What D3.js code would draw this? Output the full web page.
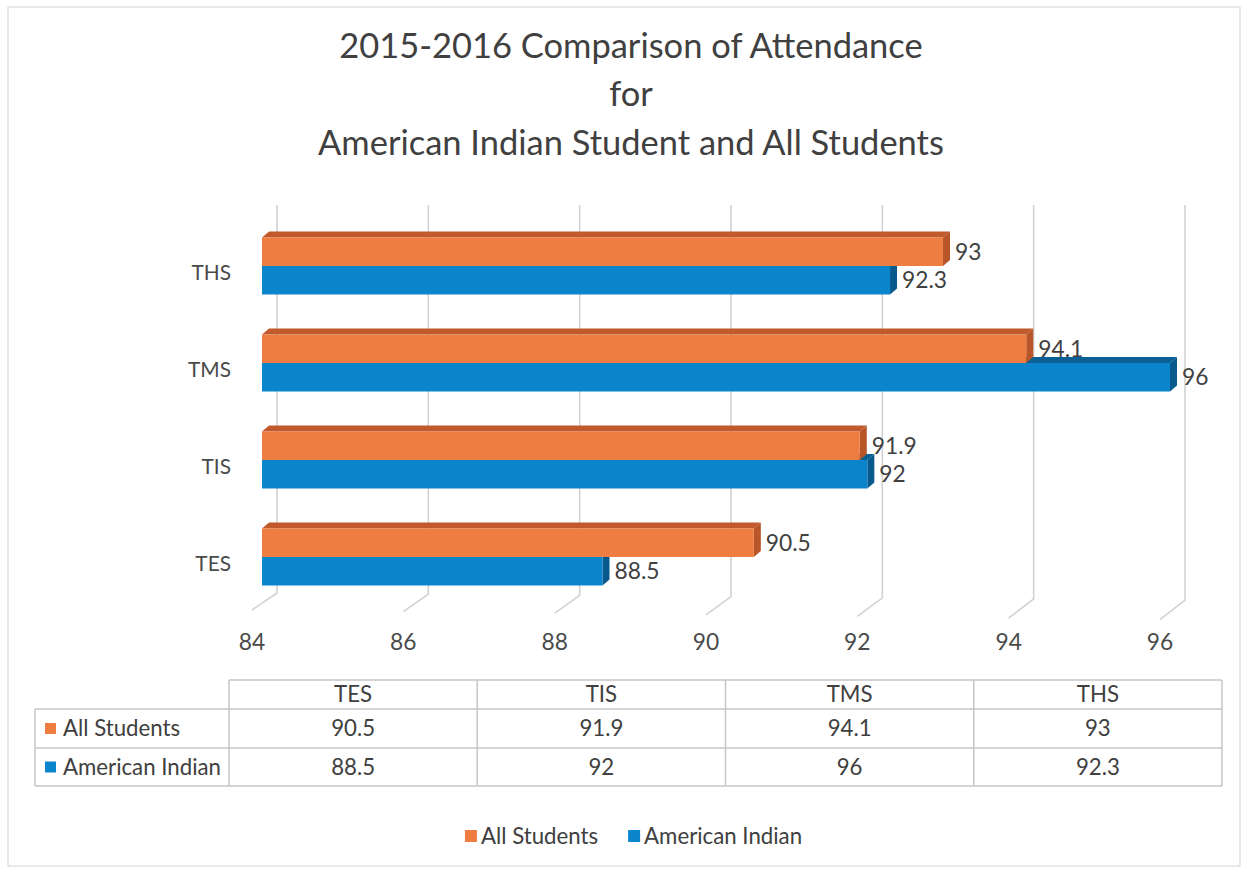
<!DOCTYPE html>
<html><head><meta charset="utf-8">
<script src="https://cdn.jsdelivr.net/npm/d3@7"></script>
<style>html,body{margin:0;padding:0;background:#fff;} svg{display:block;}</style>
</head><body>
<svg id="chart" width="1247" height="873"></svg>
<script>
// ---------- data ----------
const categories = ["TES", "TIS", "TMS", "THS"];
const seriesNames = ["All Students", "American Indian"];
const allStudents = [90.5, 91.9, 94.1, 93];
const americanIndian = [88.5, 92, 96, 92.3];
const xTicks = [84, 86, 88, 90, 92, 94, 96];
const titleLines = ["2015-2016 Comparison of Attendance", "for", "American Indian Student and All Students"];

// ---------- style ----------
const FONT = "Lato, 'Open Sans', sans-serif";
const TEXT = "#404040";
const frontColors = {"All Students": "#EE7D42", "American Indian": "#0A84CB"};
const topColors = {"All Students": "#C0592B", "American Indian": "#0A5F94"};
const sideColors = {"All Students": "#B85529", "American Indian": "#095A8C"};
const GRID = "#D2D2D2";
const TABLE_LINE = "#C6C6C6";

const svg = d3.select("#chart");

function fitSize(sample, target) {
  const t = svg.append("text").attr("font-family", FONT).attr("font-size", 100).text(sample);
  const w = t.node().getComputedTextLength();
  t.remove();
  return 100 * target / w;
}

// chart border
svg.append("rect").attr("x", 8).attr("y", 7).attr("width", 1232).attr("height", 859)
  .attr("fill", "#fff").attr("stroke", "#E2E2E2").attr("stroke-width", 1.5);

// ---------- title ----------
const titleSize = fitSize(titleLines[2], 626);
const titleBase = [58, 106, 155];
svg.append("g").selectAll("text").data(titleLines).join("text")
  .attr("x", 631).attr("y", (d, i) => titleBase[i])
  .attr("text-anchor", "middle").attr("font-family", FONT).attr("font-size", titleSize)
  .attr("fill", TEXT).text(d => d);

// ---------- scales ----------
const xBack = d3.scaleLinear().domain([84, 96]).range([277, 1185]);
const xBar = d3.scaleLinear().domain([84, 96]).range([262, 1170]);
const yCat = d3.scaleBand().domain(categories.slice().reverse()).range([217.5, 605.5]);
const ySer = d3.scaleBand().domain(seriesNames).range([-28.5, 28.5]);
const backBottom = v => 593 + (v - 84) * 0.6;
const frontBottom = v => 610 + (v - 84) * 0.8;
const DX = 7, DY = 6;

// ---------- gridlines (back wall + floor) ----------
const grid = svg.append("g");
grid.selectAll("path").data(xTicks).join("path")
  .attr("d", v => `M${xBack(v)},205 L${xBack(v)},${backBottom(v)} L${xBack(v) - 25},${frontBottom(v)}`)
  .attr("fill", "none").attr("stroke", GRID).attr("stroke-width", 1.6);

const valSize = fitSize("92.3", 45);
svg.append("g").selectAll("text").data(xTicks).join("text")
  .attr("x", v => xBack(v) - 25).attr("y", 642)
  .attr("dy", "0.35em")
  .attr("text-anchor", "middle").attr("font-family", FONT).attr("font-size", valSize)
  .attr("fill", "#4A4A4A").text(v => v);

// ---------- bars ----------
const barData = [];
categories.forEach((c, i) => {
  // draw lower (blue) first, then upper (orange) on top
  barData.push({cat: c, series: "American Indian", value: americanIndian[i]});
  barData.push({cat: c, series: "All Students", value: allStudents[i]});
});

const bars = svg.append("g").selectAll("g").data(barData).join("g");
bars.each(function(d) {
  const g = d3.select(this);
  const x0 = xBar(84), x1 = xBar(d.value);
  const y0 = yCat(d.cat) + yCat.bandwidth() / 2 + ySer(d.series);
  const h = ySer.bandwidth();
  g.append("path")
    .attr("d", `M${x0},${y0} L${x0 + DX},${y0 - DY} L${x1 + DX},${y0 - DY} L${x1},${y0} Z`)
    .attr("fill", topColors[d.series]);
  g.append("path")
    .attr("d", `M${x1},${y0} L${x1 + DX},${y0 - DY} L${x1 + DX},${y0 + h - DY} L${x1},${y0 + h} Z`)
    .attr("fill", sideColors[d.series]);
  g.append("rect").attr("x", x0).attr("y", y0).attr("width", x1 - x0).attr("height", h)
    .attr("fill", frontColors[d.series]);
});

// value labels
svg.append("g").selectAll("text").data(barData).join("text")
  .attr("x", d => xBar(d.value) + 12)
  .attr("y", d => yCat(d.cat) + yCat.bandwidth() / 2 + ySer(d.series) + ySer.bandwidth() / 2)
  .attr("dy", "0.35em").attr("font-family", FONT).attr("font-size", valSize)
  .attr("fill", TEXT).text(d => d.value);

// category labels
const catSize = fitSize("TMS", 43);
svg.append("g").selectAll("text").data(categories).join("text")
  .attr("x", 231).attr("y", d => yCat(d) + yCat.bandwidth() / 2 + 7)
  .attr("dy", "0.35em").attr("text-anchor", "end").attr("font-family", FONT)
  .attr("font-size", catSize).attr("fill", "#4A4A4A").text(d => d);

// ---------- data table ----------
const tblSize = fitSize("American Indian", 158);
const xCol = d3.scaleBand().domain(categories).range([229, 1222]);
const rowEdges = [680, 709, 748, 786];
const tableLeft = 35, tableRight = 1222;
const tg = svg.append("g").attr("stroke", TABLE_LINE).attr("stroke-width", 1.5);
tg.append("line").attr("x1", xCol.range()[0]).attr("x2", tableRight).attr("y1", rowEdges[0]).attr("y2", rowEdges[0]);
rowEdges.slice(1).forEach(y => tg.append("line").attr("x1", tableLeft).attr("x2", tableRight).attr("y1", y).attr("y2", y));
tg.append("line").attr("x1", tableLeft).attr("x2", tableLeft).attr("y1", rowEdges[1]).attr("y2", rowEdges[3]);
categories.forEach(c => tg.append("line").attr("x1", xCol(c)).attr("x2", xCol(c)).attr("y1", rowEdges[0]).attr("y2", rowEdges[3]));
tg.append("line").attr("x1", tableRight).attr("x2", tableRight).attr("y1", rowEdges[0]).attr("y2", rowEdges[3]);

const tt = svg.append("g").attr("font-family", FONT).attr("font-size", tblSize).attr("fill", TEXT);
tt.selectAll("text.hdr").data(categories).join("text").attr("class", "hdr")
  .attr("x", c => xCol(c) + xCol.bandwidth() / 2).attr("y", (rowEdges[0] + rowEdges[1]) / 2)
  .attr("dy", "0.35em").attr("text-anchor", "middle").text(c => c);
const seriesValues = [allStudents, americanIndian];
seriesNames.forEach((s, si) => {
  const yc = (rowEdges[si + 1] + rowEdges[si + 2]) / 2;
  svg.append("rect").attr("x", 45).attr("y", yc - 5.5).attr("width", 11).attr("height", 11).attr("fill", frontColors[s]);
  tt.append("text").attr("x", 63).attr("y", yc).attr("dy", "0.35em").text(s);
  tt.selectAll(null).data(seriesValues[si]).join("text")
    .attr("x", (v, i) => xCol(categories[i]) + xCol.bandwidth() / 2).attr("y", yc)
    .attr("dy", "0.35em").attr("text-anchor", "middle").text(v => v);
});

// ---------- legend ----------
const lg = svg.append("g");
const items = seriesNames.map(s => {
  const t = lg.append("text").attr("font-family", FONT).attr("font-size", tblSize).attr("fill", TEXT)
    .attr("y", 836).attr("dy", "0.35em").text(s);
  return {s, t, w: t.node().getComputedTextLength()};
});
const MK = 12, GAP = 4, ITEM_GAP = 30;
const total = items.reduce((a, it) => a + MK + GAP + it.w, 0) + ITEM_GAP * (items.length - 1);
let cx = 633.5 - total / 2;
items.forEach(it => {
  lg.append("rect").attr("x", cx).attr("y", 836 - MK / 2).attr("width", MK).attr("height", MK).attr("fill", frontColors[it.s]);
  it.t.attr("x", cx + MK + GAP);
  cx += MK + GAP + it.w + ITEM_GAP;
});
</script>
</body></html>
